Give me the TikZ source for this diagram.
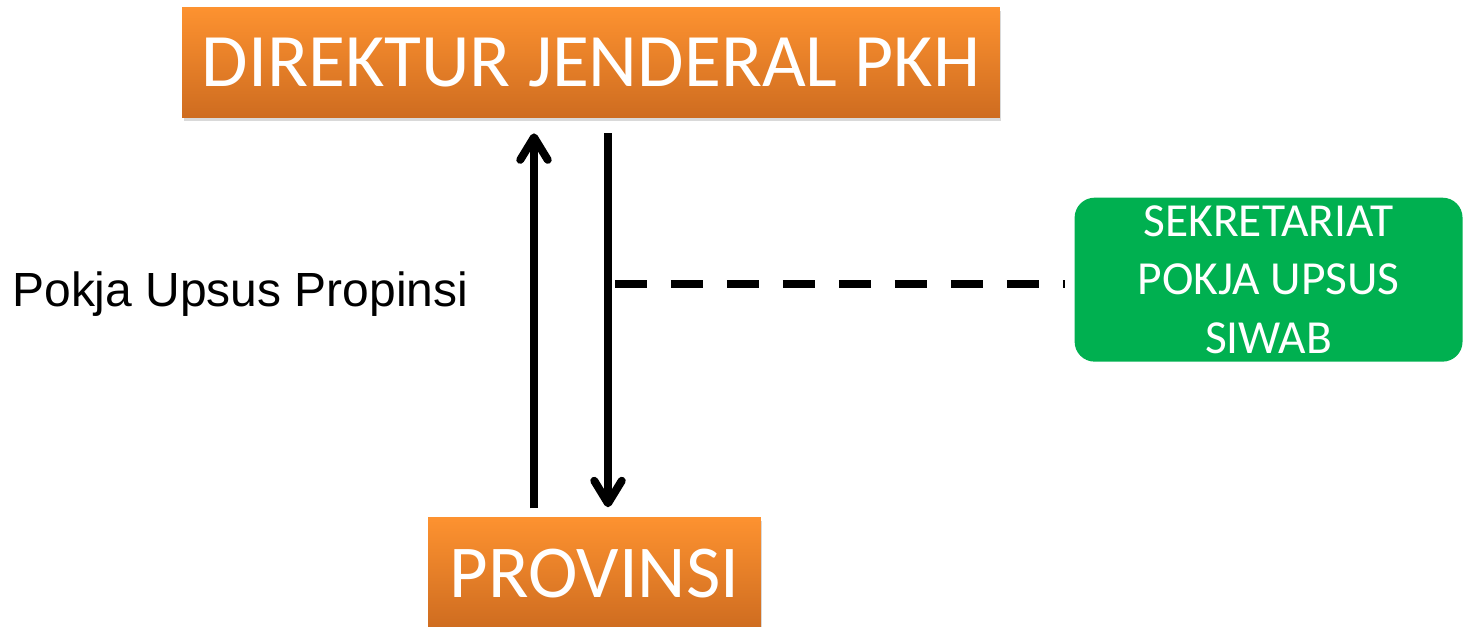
\documentclass[tikz,border=0pt]{standalone}
\usepackage{fontspec}
\setmainfont{Carlito}
\newfontfamily\arialfont{Liberation Sans}
\usetikzlibrary{arrows.meta, positioning, shadows}
\definecolor{orgtop}{RGB}{253,146,48}
\definecolor{orgbot}{RGB}{206,108,32}
\definecolor{grn}{RGB}{0,176,80}

\begin{document}
\begin{tikzpicture}[x=0.02cm, y=-0.02cm, >={Straight Barb[length=0.45cm, width=0.55cm, round]},
  orgbox/.style={rectangle, top color=orgtop, bottom color=orgbot, text=white, inner sep=0pt,
    minimum height=2.22cm, font=\fontsize{42.5}{50}\selectfont,
    drop shadow={shadow xshift=0.03cm, shadow yshift=-0.07cm, opacity=0.3}},
  grnbox/.style={rectangle, rounded corners=0.4cm, fill=grn, text=white, align=center, inner sep=0pt,
    minimum width=7.76cm, minimum height=3.28cm, font=\fontsize{27}{33.5}\selectfont},
  flow/.style={line width=0.16cm},
  link/.style={line width=0.16cm, dash pattern=on 0.64cm off 0.48cm}]
  \useasboundingbox (0,0) rectangle (1467,626);

  \node[orgbox, minimum width=16.36cm, font=\fontsize{43}{50}\selectfont] (direktur) at (591,62.5) {DIREKTUR JENDERAL PKH};
  \node[orgbox, minimum width=6.66cm, below=7.98cm of direktur, xshift=0.07cm] (provinsi) {PROVINSI};
  \node[grnbox, below right=1.58cm and 1.48cm of direktur] (sekretariat) {SEKRETARIAT\\POKJA UPSUS\\SIWAB};
  \node[font=\arialfont\fontsize{27.3}{32}\selectfont, anchor=west, inner sep=0pt] (pokja) at (12,294) {Pokja Upsus Propinsi};

  \coordinate (upx) at (534,0);
  \coordinate (dnx) at (608,0);
  \coordinate (dsh) at (615,284);

  \draw[flow, ->, shorten <=0.18cm, shorten >=0.3cm] (provinsi.north -| upx) -- (direktur.south -| upx);
  \draw[flow, ->, shorten <=0.3cm, shorten >=0.2cm] (direktur.south -| dnx) -- (provinsi.north -| dnx);
  \draw[link, shorten >=0.18cm] (dsh) -- (dsh -| sekretariat.west);
\end{tikzpicture}
\end{document}
